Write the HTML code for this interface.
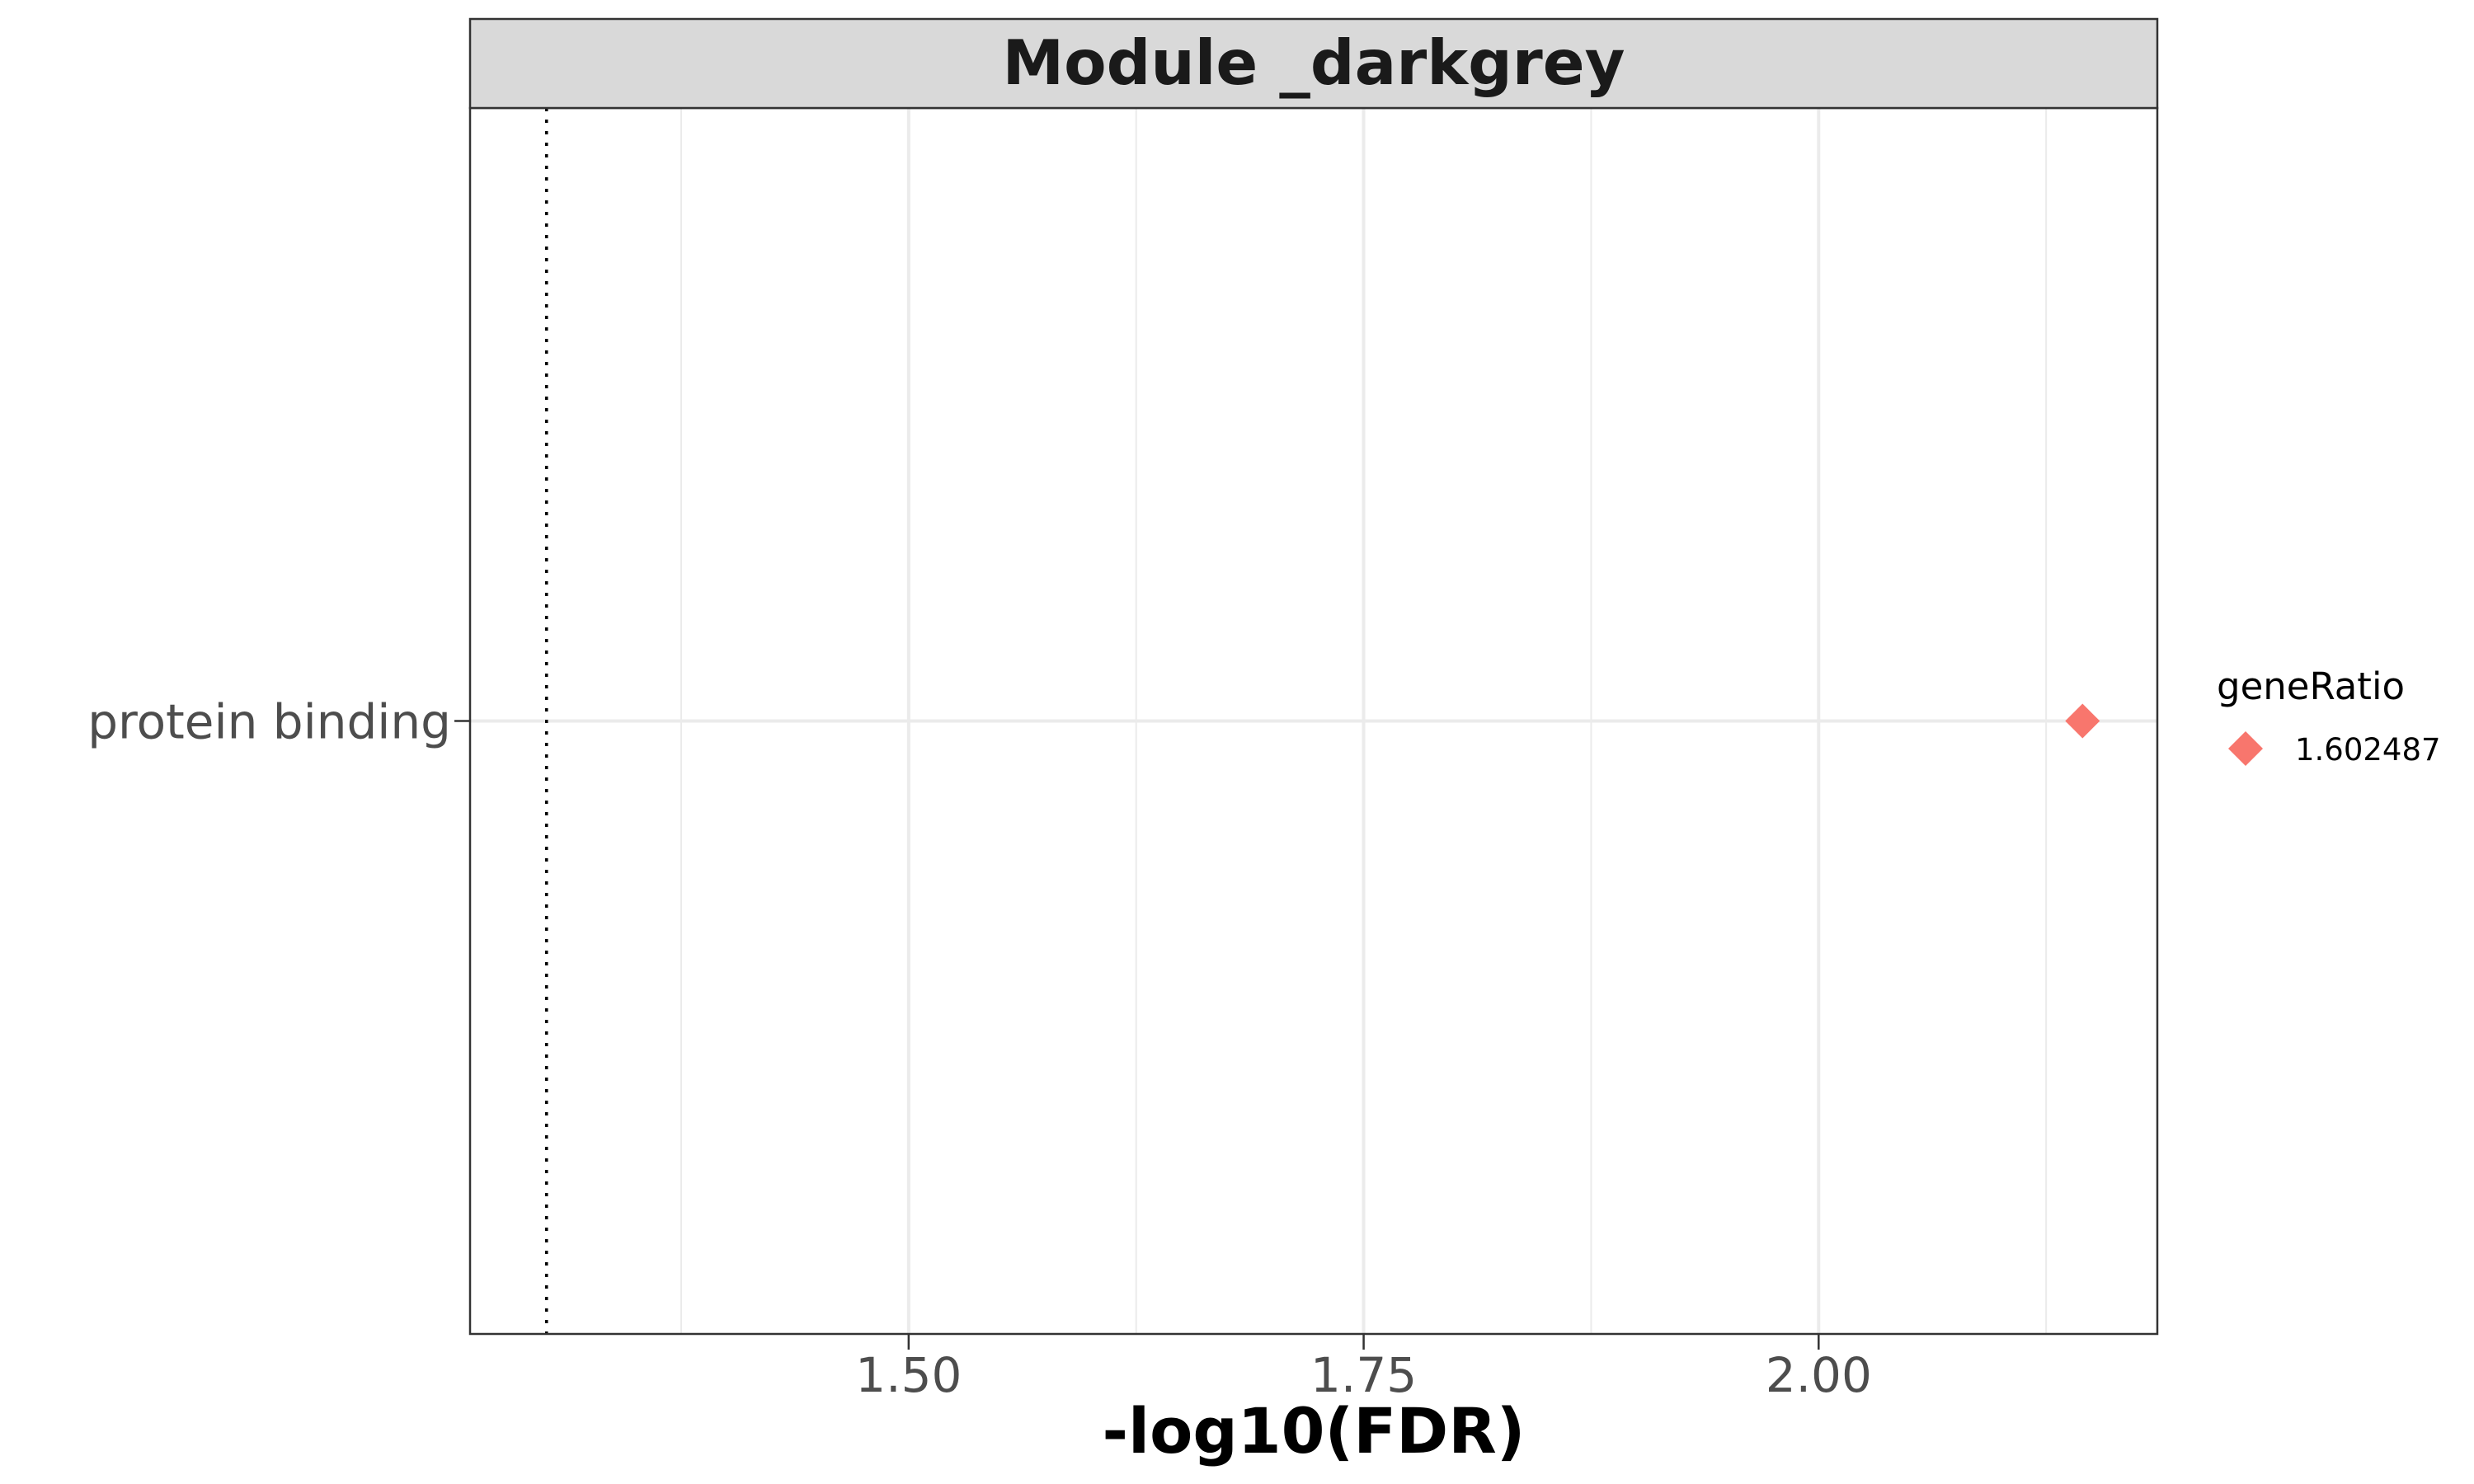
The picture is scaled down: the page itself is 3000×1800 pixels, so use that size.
<!DOCTYPE html>
<html><head><meta charset="utf-8"><style>body{margin:0;background:#fff}svg{display:block}</style></head>
<body>
<svg id="chart" width="3000" height="1800" xmlns="http://www.w3.org/2000/svg" font-family="'DejaVu Sans','Liberation Sans',sans-serif">
<rect width="3000" height="1800" fill="#fff"/>
<g id="grid"></g>
<g id="marks"></g>
<rect x="570" y="131" width="2046" height="1487" fill="none" stroke="#333" stroke-width="2.5"/>
<rect x="570" y="23" width="2046" height="108" fill="#d9d9d9" stroke="#333" stroke-width="2.5"/>
<text x="1593" y="102" text-anchor="middle" font-size="75" font-weight="bold" fill="#1a1a1a">Module _darkgrey</text>
<g id="axes"></g>
<text x="1593" y="1762" text-anchor="middle" font-size="76" font-weight="bold" fill="#000">-log10(FDR)</text>
<text x="2688" y="848" font-size="45" fill="#000">geneRatio</text>
<g id="legend"></g>
</svg>
<script>
const categories = ["protein binding"];
const fdrValues = [2.145];
const geneRatios = ["1.602487"];
const xTicks = [1.5, 1.75, 2.0];
const xTickLabels = ["1.50", "1.75", "2.00"];
const threshold = 1.30103;

const NS = "http://www.w3.org/2000/svg";
const x0 = 570, x1 = 2616, y0 = 131, y1 = 1618;
const dMin = 1.259, dMax = 2.1861;
const xs = v => x0 + (v - dMin) / (dMax - dMin) * (x1 - x0);
const ys = i => y0 + (y1 - y0) * (i + 1) / (categories.length + 1);
function mk(tag, attrs, parent) { const e = document.createElementNS(NS, tag); for (const k in attrs) e.setAttribute(k, attrs[k]); parent.appendChild(e); return e; }
const grid = document.getElementById("grid"), marks = document.getElementById("marks"), axes = document.getElementById("axes"), legend = document.getElementById("legend");
const step = xTicks[1] - xTicks[0];
for (let v = xTicks[0] - step / 2; v <= dMax; v += step / 2) {
  if (v < dMin) continue;
  const major = xTicks.some(t => Math.abs(t - v) < 1e-6);
  const l = mk("line", {x1: xs(v), x2: xs(v), y1: y0, y2: y1, stroke: "#ebebeb", "stroke-width": major ? 4 : 2}, grid);
  
  
}
categories.forEach((c, i) => {
  const yy = ys(i);
  const g = mk("line", {x1: x0, x2: x1, y1: yy, y2: yy, stroke: "#ebebeb", "stroke-width": 4}, grid);
  
  
  const t = mk("line", {x1: 551, x2: x0, y1: yy, y2: yy, stroke: "#333", "stroke-width": 2.5}, axes);
  
  
  const lab = mk("text", {x: 547, y: yy + 21, "text-anchor": "end", "font-size": 58, fill: "#4d4d4d"}, axes);
  lab.textContent = c;
  
  
  const px = xs(fdrValues[i]), r = 21;
  const d = mk("polygon", {points: `${px},${yy - r} ${px + r},${yy} ${px},${yy + r} ${px - r},${yy}`, fill: "#f8766d"}, marks);
  
  
});
const th = mk("line", {x1: xs(threshold), x2: xs(threshold), y1: y0, y2: y1, stroke: "#000", "stroke-width": 3.5, "stroke-dasharray": "4 10"}, marks);


xTicks.forEach((v, i) => {
  const t = mk("line", {x1: xs(v), x2: xs(v), y1: y1, y2: y1 + 19, stroke: "#333", "stroke-width": 2.5}, axes);
  
  
  const lab = mk("text", {x: xs(v), y: y1 + 70, "text-anchor": "middle", "font-size": 58, fill: "#4d4d4d"}, axes);
  lab.textContent = xTickLabels[i];
  
  
});
geneRatios.forEach((g, i) => {
  const cy = 908 + i * 60, cx = 2723, r = 21;
  const k = mk("polygon", {points: `${cx},${cy - r} ${cx + r},${cy} ${cx},${cy + r} ${cx - r},${cy}`, fill: "#f8766d"}, legend);
  
  
  const t = mk("text", {x: 2783, y: cy + 14, "font-size": 37, fill: "#000"}, legend);
  t.textContent = g;
  
  
});
</script>
</body></html>
